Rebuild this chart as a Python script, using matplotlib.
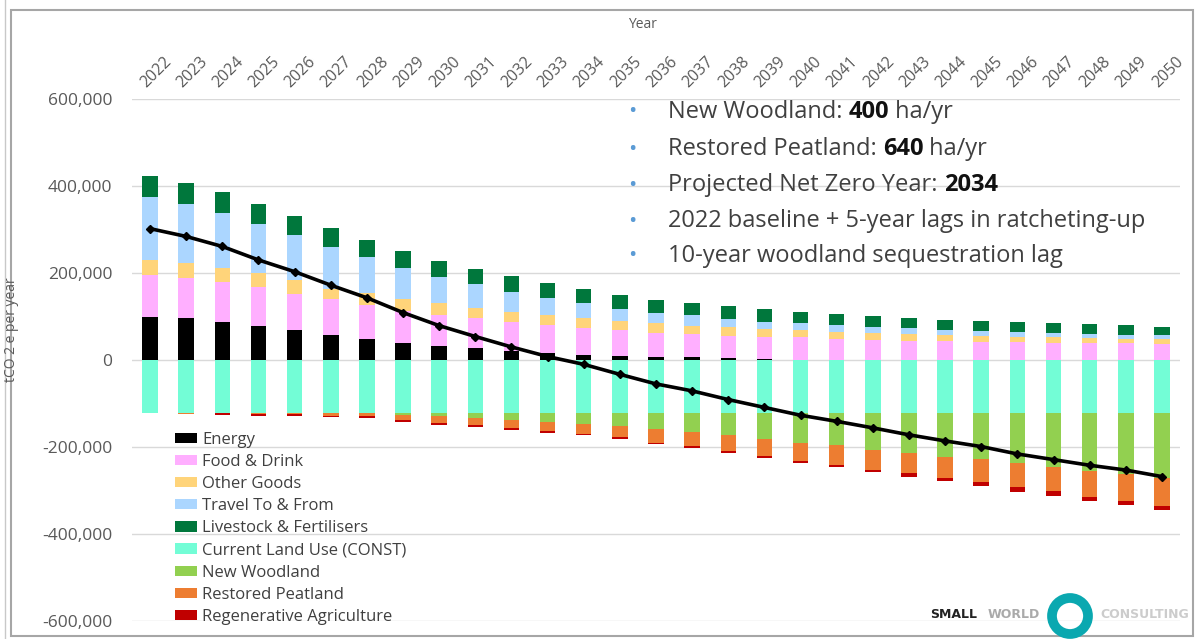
import numpy as np
import matplotlib
matplotlib.use("Agg")
import matplotlib.pyplot as plt
from matplotlib.patches import Rectangle, Circle
from matplotlib.lines import Line2D
from matplotlib.transforms import ScaledTranslation

plt.rcParams['font.family'] = ['Open Sans', 'DejaVu Sans']

# ---------------- data (tCO2e, thousands) ----------------
years = list(range(2022, 2051))
energy = [100, 96, 88, 78, 68, 57, 48, 38, 32, 27, 21, 15, 11, 9, 7, 6, 4, 2, 1,
          0, 0, 0, 0, 0, 0, 0, 0, 0, 0]
food = [95, 92, 92, 89, 84, 83, 78, 75, 71, 69, 66, 65, 63, 59, 56, 54, 52, 52, 51,
        49, 46, 44, 44, 42, 42, 40, 40, 38, 37]
other_goods = [35, 34, 32, 34, 32, 23, 29, 27, 28, 23, 24, 23, 22, 22, 21, 19, 19, 17, 17,
               15, 15, 16, 13, 13, 12, 12, 11, 10, 11]
travel = [144, 136, 127, 112, 103, 97, 81, 71, 59, 55, 45, 40, 35, 27, 23, 24, 19, 17, 15,
          16, 16, 13, 12, 12, 10, 9, 9, 9, 9]
livestock = [49, 50, 48, 46, 45, 43, 41, 40, 38, 35, 36, 33, 32, 32, 32, 29, 29, 29, 26,
             26, 24, 23, 23, 23, 23, 23, 23, 23, 20]
current_land = [-121] * 29
woodland = [0, 0, 0, 0, 0, 0, 0, -6, -7, -12, -18, -21, -25, -31, -38, -44, -52, -61, -69,
            -75, -85, -92, -101, -107, -116, -124, -134, -142, -150]
peatland = [0, -3, -1, -3, -4, -7, -8, -11, -17, -17, -18, -21, -23, -26, -31, -33, -36, -38, -42,
            -46, -46, -47, -50, -53, -55, -57, -60, -61, -64]
regen = [0, 0, -4, -5, -4, -3, -5, -4, -4, -5, -5, -5, -4, -4, -4, -5, -5, -6, -5,
         -5, -5, -8, -6, -8, -11, -11, -10, -9, -10]

pos_series = [("Energy", energy, "#000000"),
              ("Food & Drink", food, "#FFAFFF"),
              ("Other Goods", other_goods, "#FFD47A"),
              ("Travel To & From", travel, "#ABD6FF"),
              ("Livestock & Fertilisers", livestock, "#00773C")]
neg_series = [("Current Land Use (CONST)", current_land, "#73FDD6"),
              ("New Woodland", woodland, "#92D050"),
              ("Restored Peatland", peatland, "#ED7D31"),
              ("Regenerative Agriculture", regen, "#C00000")]

notes = [[("New Woodland: ", "normal"), ("400", "bold"), (" ha/yr", "normal")],
         [("Restored Peatland: ", "normal"), ("640", "bold"), (" ha/yr", "normal")],
         [("Projected Net Zero Year: ", "normal"), ("2034", "bold")],
         [("2022 baseline + 5-year lags in ratcheting-up", "normal")],
         [("10-year woodland sequestration lag", "normal")]]

W, H = 1201, 639
fig = plt.figure(figsize=(W / 100, H / 100), dpi=100)
ax = fig.add_axes([132 / W, 1 - 621 / H, (1180 - 132) / W, (621 - 99) / H])

x = np.arange(len(years))
bw = 0.43
scale = 1000

bottom = np.zeros(len(years))
for name, vals, col in pos_series:
    v = np.array(vals) * scale
    ax.bar(x, v, bw, bottom=bottom, color=col, label=name, zorder=2)
    bottom += v
top_pos = bottom.copy()

bottom = np.zeros(len(years))
for name, vals, col in neg_series:
    v = np.array(vals) * scale
    ax.bar(x, v, bw, bottom=bottom, color=col, label=name, zorder=2)
    bottom += v

# net emissions line
net = top_pos + bottom
ax.plot(x, net, color='k', lw=2.6, marker='D', ms=4.5, zorder=3)

ax.set_xlim(-0.5, len(years) - 0.5)
ax.set_ylim(-600000, 600000)
ax.set_yticks(np.arange(-600000, 600001, 200000))
ax.yaxis.set_major_formatter(matplotlib.ticker.FuncFormatter(lambda v, p: '{:,.0f}'.format(v)))
ax.grid(axis='y', color='#D9D9D9', lw=1, zorder=0)
for s in ax.spines.values():
    s.set_visible(False)

# year labels on top, rotated
ax.set_xticks([])
off = ScaledTranslation(6 / 100, 8 / 100, fig.dpi_scale_trans)
for i, yr in enumerate(years):
    ax.text(i, 1.0, str(yr), transform=ax.get_xaxis_transform() + off, rotation=45,
            ha='center', va='bottom', fontsize=11.5, color='#595959')
ax.tick_params(axis='y', length=0, pad=14, labelsize=12.5, labelcolor='#595959')

fig.text(642 / W, 1 - 24 / H, 'Year', fontsize=10, color='#595959', ha='center', va='center')
fig.text(12 / W, 1 - 330 / H, 'tCO 2 e per year', fontsize=10, color='#595959',
         rotation=90, ha='center', va='center')

handles, labels = ax.get_legend_handles_labels()
leg = fig.legend(handles, labels, loc='upper left', bbox_to_anchor=(168 / W, 1 - 425 / H),
                 frameon=False, fontsize=12, labelspacing=0.37, handlelength=1.35,
                 handleheight=0.58, handletextpad=0.3, borderaxespad=0)
for t in leg.get_texts():
    t.set_color('#404040')

# notes box with bold numbers
renderer = fig.canvas.get_renderer()
line_y = [112, 149, 185, 221, 256]
for parts, py in zip(notes, line_y):
    fig.text(632 / W, 1 - py / H, u'\u2022', fontsize=16, color='#5B9BD5', ha='center', va='center')
    px = 668
    for s, w in parts:
        t = fig.text(px / W, 1 - py / H, s, fontsize=17, fontweight=w,
                     color='#111111' if w == 'bold' else '#404040', va='center')
        px += t.get_window_extent(renderer).width

# logo
logo_font = dict(fontsize=9, fontweight='bold', va='center', family='DejaVu Sans')
fig.text(930 / W, 1 - 614 / H, 'SMALL', color='#222222', **logo_font)
fig.text(988 / W, 1 - 614 / H, 'WORLD', color='#AAAAAA', **logo_font)
fig.text(1100 / W, 1 - 614 / H, 'CONSULTING', color='#CCCCCC', **logo_font)
ring = Circle((1070, H - 616), 18, transform=None, fill=False, ec='#0AA8B0', lw=7, zorder=5)
fig.add_artist(ring)

# outer frame
frame = Rectangle((11 / W, 1 - 636 / H), (1193 - 11) / W, (636 - 10) / H, transform=fig.transFigure,
                  fill=False, ec='#A6A6A6', lw=1.5)
fig.add_artist(frame)
fig.add_artist(Line2D([4.5 / W, 4.5 / W], [0, 1], transform=fig.transFigure, color='#C8C8C8', lw=1))

fig.savefig('out.png', dpi=100)
